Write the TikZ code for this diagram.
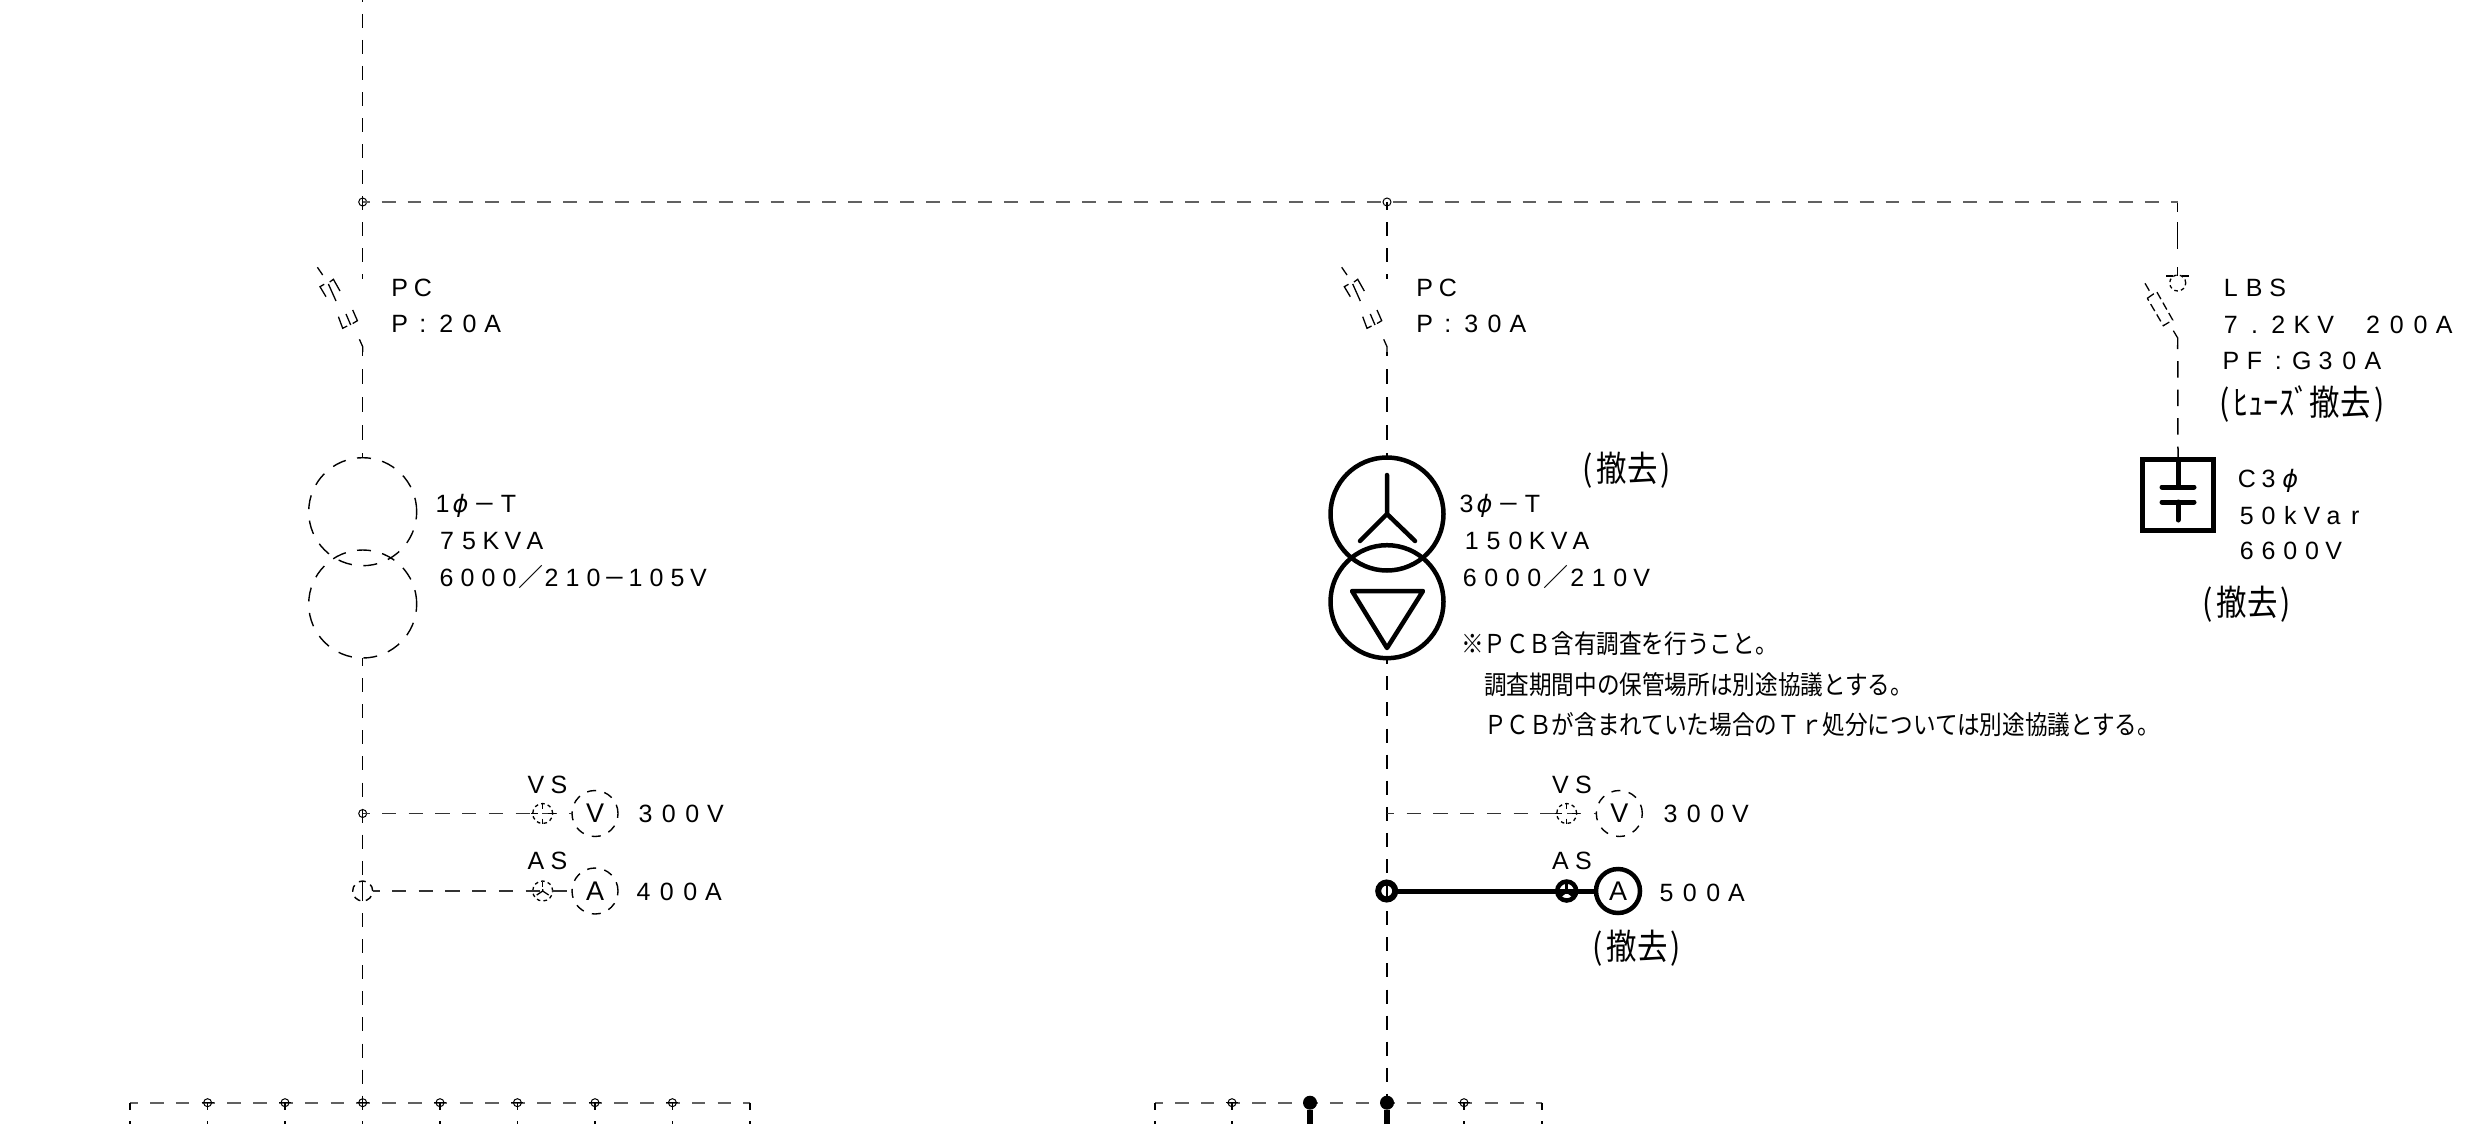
\documentclass[tikz,border=0pt]{standalone}
\usepackage{fontspec}
\usepackage{graphicx}
\setmainfont{Liberation Sans}
\newfontfamily\cjk{Noto Sans CJK JP}
\newfontfamily\phifam{DejaVu Sans}
\makeatletter
\newcommand\cells[2]{\@tfor\cellch:=#2\do{\makebox[#1pt][c]{\cellch}}}
\makeatother
\newcommand\phig{{\phifam\itshape\fontsize{24}{24}\selectfont ϕ}}
\newcommand\fwsl{{\cjk ／}}
\newcommand\fwmn{\scalebox{1.35}[1]{−}}
\newcommand\jpbig[1]{\scalebox{.87}[1]{\cjk\fontsize{35}{35}\selectfont (\kern4pt #1\kern4pt)}}
\newcommand\jpnote[1]{\scalebox{.87}[1]{\cjk\fontsize{26}{26}\selectfont #1}}
\tikzset{
  wire/.style={line width=1.5pt,black},
  hwire/.style={line width=1.8pt,black!62},
  rwire/.style={line width=1.8pt,black!80},
  vdash/.style={wire,dash pattern=on 14pt off 12pt},
  vdashb/.style={wire,dash pattern=on 14.5pt off 13.6pt},
  hdash/.style={hwire,dash pattern=on 13.9pt off 12.03pt},
  rowdash/.style={rwire,dash pattern=on 14.3pt off 12.4pt},
  busdash/.style={hwire,dash pattern=on 13.5pt off 12.3pt},
  stubdash/.style={wire,dash pattern=on 7.5pt off 11pt},
  sym/.style={line width=1.3pt,black,line cap=butt},
  thick sym/.style={line width=4.5pt,black,line cap=round,line join=round},
  ring/.style={circle,draw,inner sep=0pt,outer sep=0pt},
  dcirc/.style={ring,line width=1.4pt,dash pattern=on 14pt off 11.5pt},
  bigdash/.style={dcirc,minimum size=108pt},
  bigthick/.style={ring,line width=4.5pt,minimum size=113pt},
  meterd/.style={ring,line width=1.4pt,dash pattern=on 9pt off 8.5pt,minimum size=46pt,font=\fontsize{27}{27}\selectfont},
  metert/.style={ring,line width=4.5pt,minimum size=44pt,font=\fontsize{27}{27}\selectfont},
  swd/.style={ring,line width=1.3pt,dash pattern=on 3.6pt off 3.2pt,minimum size=20pt},
  jsmall/.style={ring,line width=1pt,minimum size=8pt},
  jfill/.style={circle,fill=black,inner sep=0pt,outer sep=0pt,minimum size=14pt},
  txt/.style={anchor=base west,inner sep=0pt,outer sep=0pt,font=\fontsize{25}{25}\selectfont},
  jp/.style={anchor=center,inner sep=0pt,outer sep=0pt},
  note/.style={anchor=west,inner sep=0pt,outer sep=0pt},
  capbox/.style={rectangle,draw,line width=5pt,minimum size=71pt,inner sep=0pt,outer sep=0pt}
}
% disconnector with fuse, hung on the wire at x=#1
\newcommand\pcswitch[1]{%
  \begin{scope}[xshift=#1pt,yshift=0pt]
    \draw[sym] (-45.3,267.3) -- (-40,275);
    \draw[sym] (-36.7,296.7) -- (-42.7,286.7) -- (-38.5,284.3);
    \draw[sym] (-33,282) -- (-29.3,279.3) -- (-22.7,291);
    \draw[sym] (-34.3,284) -- (-26.7,301);
    \draw[sym] (-24.3,316.7) -- (-20,328.3) -- (-15.5,326);
    \draw[sym] (-10,323.5) -- (-5.3,320.7) -- (-10,310);
    \draw[sym] (-16.7,314) -- (-12,325);
    \draw[sym] (-3.3,339.3) -- (0,346.7) -- (0,352);
  \end{scope}}
\newcommand\vscross[1]{%
  \draw[sym] (#1.center) ++(0,-10) -- ++(0,5);
  \draw[sym] (#1.center) ++(0,5) -- ++(0,5);
  \draw[sym] (#1.center) ++(-12,0) -- ++(7,0);
  \draw[sym] (#1.center) ++(5,0) -- ++(8,0);}
\begin{document}
\begin{tikzpicture}[x=1pt,y=-1pt]
\useasboundingbox (0,0) rectangle (2481,1124);
\clip (0,0) rectangle (2481,1124);
% ---- named points
\coordinate (topL) at (362.7,0);
\coordinate (jL) at (362.7,202);
\coordinate (jM) at (1387,202);
\coordinate (cornerR) at (2177.7,202);
\coordinate (swLa) at (362.7,279);
\coordinate (swLb) at (362.7,352);
\coordinate (swMa) at (1387,279);
\coordinate (swMb) at (1387,352);
\coordinate (swRa) at (2177.7,276);
\coordinate (swRb) at (2177.7,345);
\coordinate (busL) at (362.7,1102.7);
\coordinate (busM) at (1387,1102.7);
\coordinate (busLa) at (130,1102.7);
\coordinate (busLb) at (750,1102.7);
\coordinate (busMa) at (1155,1102.7);
\coordinate (busMb) at (1542,1102.7);
\coordinate (vsLj) at (362.7,813.5);
\coordinate (vsMj) at (1387,813.5);
% ---- symbols
\node[bigdash] (trLa) at (362.7,511.7) {};
\node[bigdash] (trLb) at (362.7,604) {};
\node[bigthick] (trMa) at (1387,514) {};
\node[bigthick] (trMb) at (1387,601.7) {};
\node[capbox] (cap) at (2178,495) {};
\node[meterd] (vL) at (595,813.5) {V};
\node[meterd] (aL) at (595,891) {A};
\node[meterd] (vM) at (1619.3,813.5) {V};
\node[metert] (aM) at (1618,891) {A};
\node[swd] (vsL) at (542.7,813.5) {};
\node[swd] (asL) at (542.7,891) {};
\node[swd] (vsM) at (1566.7,813.5) {};
\node[ring,line width=4.5pt,minimum size=19pt] (asM) at (1566.7,891) {};
\node[dcirc,dash pattern=on 7pt off 5.5pt,minimum size=20pt] (asjL) at (362.7,891) {};
\node[ring,line width=6pt,minimum size=17pt] (asjM) at (1386.7,891) {};
\node[jsmall] (j1) at (jL) {};
\node[jsmall] (j2) at (jM) {};
\node[jsmall] (j3) at (vsLj) {};
\node[swd,minimum size=16pt] (lbsc) at (2177.7,283) {};
% ---- wires
\draw[vdash,dash phase=12pt] (topL) -- (jL);
\draw[vdash,dash phase=6pt] (jL) -- (swLa);
\draw[vdash,dash phase=6pt] (jM) -- (swMa);
\draw[vdashb,dash phase=11pt] (swLb) -- (trLa.north);
\draw[vdashb,dash phase=11pt] (swMb) -- (trMa.north);
\draw[wire,dash pattern=on 10pt off 10pt on 27pt off 18pt on 9pt] (cornerR) -- (swRa);
\draw[wire,dash pattern=on 16.5pt off 12pt,dash phase=12.3pt] (swRb) -- (cap.north);
\draw[hdash,dash phase=7pt] (jL) -- (cornerR);
\draw[vdash,dash phase=6pt,dash pattern=on 14pt off 12.1pt] (trLb.south) -- (busL);
\draw[vdash,dash phase=8pt,dash pattern=on 14pt off 12.1pt] (trMb.south) -- (busM);
\draw[rowdash,dash phase=7.4pt] (vsLj) -- (vL.west);
\draw[rowdash,dash phase=7.4pt] (asjL.east) -- (aL.west);
\draw[rowdash,dash phase=7pt] (vsMj) -- (vM.west);
\draw[line width=5pt] (asjM.east) -- (aM.west);
\draw[busdash,dash phase=5.8pt] (busLa) -- (busLb);
\draw[busdash,dash phase=5.8pt] (busMa) -- (busMb);
% ---- bus drops
\foreach \xx in {130,207.6,285,362.7,440,517.4,595,672.4,750,1155,1232,1464,1542}{
  \draw[stubdash] (\xx,1102.7) -- (\xx,1124);
}
\foreach \xx/\nn in {207.6/b1,285/b2,362.7/b3,440/b4,517.4/b5,595/b6,672.4/b7,1232/b8,1464/b9}{
  \node[jsmall] (\nn) at (\xx,1102.7) {};
  \draw[sym] (\xx-6,1102.7) -- (\xx+6,1102.7);
}
\node[jfill] (bf1) at (1310,1102.7) {};
\node[jfill] (bf2) at (busM) {};
\coordinate (bf1e) at (1310,1124);
\coordinate (bf2e) at (1387,1124);
\draw[line width=6pt] (bf1) -- (bf1e);
\draw[line width=6pt] (bf2) -- (bf2e);
% ---- switches
\pcswitch{362.7}
\pcswitch{1387}
\draw[sym] (2145,283.3) -- (2149.3,290.7);
\draw[sym,dash pattern=on 8pt off 4pt] (2147.3,298.3) -- (2156.7,291.7) -- (2172.7,320) -- (2163.3,325.7) -- cycle;
\draw[sym] (2173.3,330.7) -- (2177.7,338) -- (swRb);
\draw[sym] (2166,276) -- (2173,276);
\draw[sym] (2182,276) -- (2189,276);
% ---- transformer insides
\draw[thick sym] (1387,475) -- (1387,514) -- (1360,541);
\draw[thick sym] (1387,514) -- (1415,541);
\draw[thick sym] (1352,591) -- (1423,591) -- (1387,648) -- cycle;
% ---- capacitor
\draw[line width=5pt] (cap.north) -- (2178,487);
\draw[line width=5pt,line cap=round] (2162,487) -- (2194,487);
\draw[line width=5pt,line cap=round] (2162,502) -- (2194,502);
\draw[line width=5pt,line cap=round] (2178,502) -- (2178,520);
% ---- instrument switches
\vscross{vsL}
\vscross{vsM}
\draw[sym] (asL.center) ++(0,-9) -- ++(0,5);
\draw[sym] (asL.center) ++(0,-2) -- ++(0,2) -- ++(-6,4);
\draw[sym] (asL.center) -- ++(6,4);
\draw[line width=3pt] (asM.center) -- ++(0,-9);
\draw[line width=3pt] (asM.center) -- ++(-8,6);
\draw[line width=3pt] (asM.center) -- ++(8,6);
\draw[sym] (362.7,881) -- (362.7,900);
% ---- labels
\node[txt] (t1) at (388,296.7) {\cells{23.3}{PC}};
\node[txt] (t2) at (388,332.8) {\cells{23.3}{P:20A}};
\node[txt] (t3) at (433.5,512.5) {\cells{18}{1\phig}\kern3pt\cells{24}{\fwmn T}};
\node[txt] (t4) at (436,549.7) {\cells{22}{75KVA}};
\node[txt] (t5) at (436,586) {\cells{21}{6000\fwsl 210\fwmn 105V}};
\node[txt] (t6) at (1413,296.7) {\cells{23.3}{PC}};
\node[txt] (t7) at (1413,332.8) {\cells{23.3}{P:30A}};
\node[txt] (t8) at (1457.5,512.5) {\cells{18}{3\phig}\kern3pt\cells{24}{\fwmn T}};
\node[txt] (t9) at (1461,549.7) {\cells{21.8}{150KVA}};
\node[txt] (t10) at (1459,586) {\cells{21.5}{6000\fwsl 210V}};
\node[txt] (t11) at (2219,296.7) {\cells{23.5}{LBS}};
\node[txt] (t12) at (2219,333) {\cells{23.7}{7.2KV~200A}};
\node[txt] (t13) at (2219,369) {\cells{23.7}{PF:G30A}};
\node[txt] (t14) at (2236,487) {\cells{21.7}{C3\phig}};
\node[txt] (t15) at (2236,524) {\cells{21.7}{50kVar}};
\node[txt] (t16) at (2236,559) {\cells{21.7}{6600V}};
\node[txt] (t17) at (524.5,793) {\cells{23}{VS}};
\node[txt] (t18) at (524.5,869.6) {\cells{23}{AS}};
\node[txt] (t19) at (634,822) {\cells{23.3}{300V}};
\node[txt] (t20) at (632,900.7) {\cells{23.3}{400A}};
\node[txt] (t21) at (1549,793) {\cells{23}{VS}};
\node[txt] (t22) at (1549,869.6) {\cells{23}{AS}};
\node[txt] (t23) at (1659,822) {\cells{23.3}{300V}};
\node[txt] (t24) at (1655,901) {\cells{23.3}{500A}};
\node[jp] (r1) at (1627,470.5) {\jpbig{撤去}};
\node[jp] (r2) at (2247,604) {\jpbig{撤去}};
\node[jp] (r3) at (1637,948) {\jpbig{撤去}};
\node[jp] (r4) at (2302,404) {\jpbig{ﾋｭｰｽﾞ撤去}};
\node[note] (n1) at (1461,644) {\jpnote{※ＰＣＢ含有調査を行うこと。}};
\node[note] (n2) at (1484,685) {\jpnote{調査期間中の保管場所は別途協議とする。}};
\node[note] (n3) at (1484,725) {\jpnote{ＰＣＢが含まれていた場合のＴｒ処分については別途協議とする。}};
\end{tikzpicture}
\end{document}
